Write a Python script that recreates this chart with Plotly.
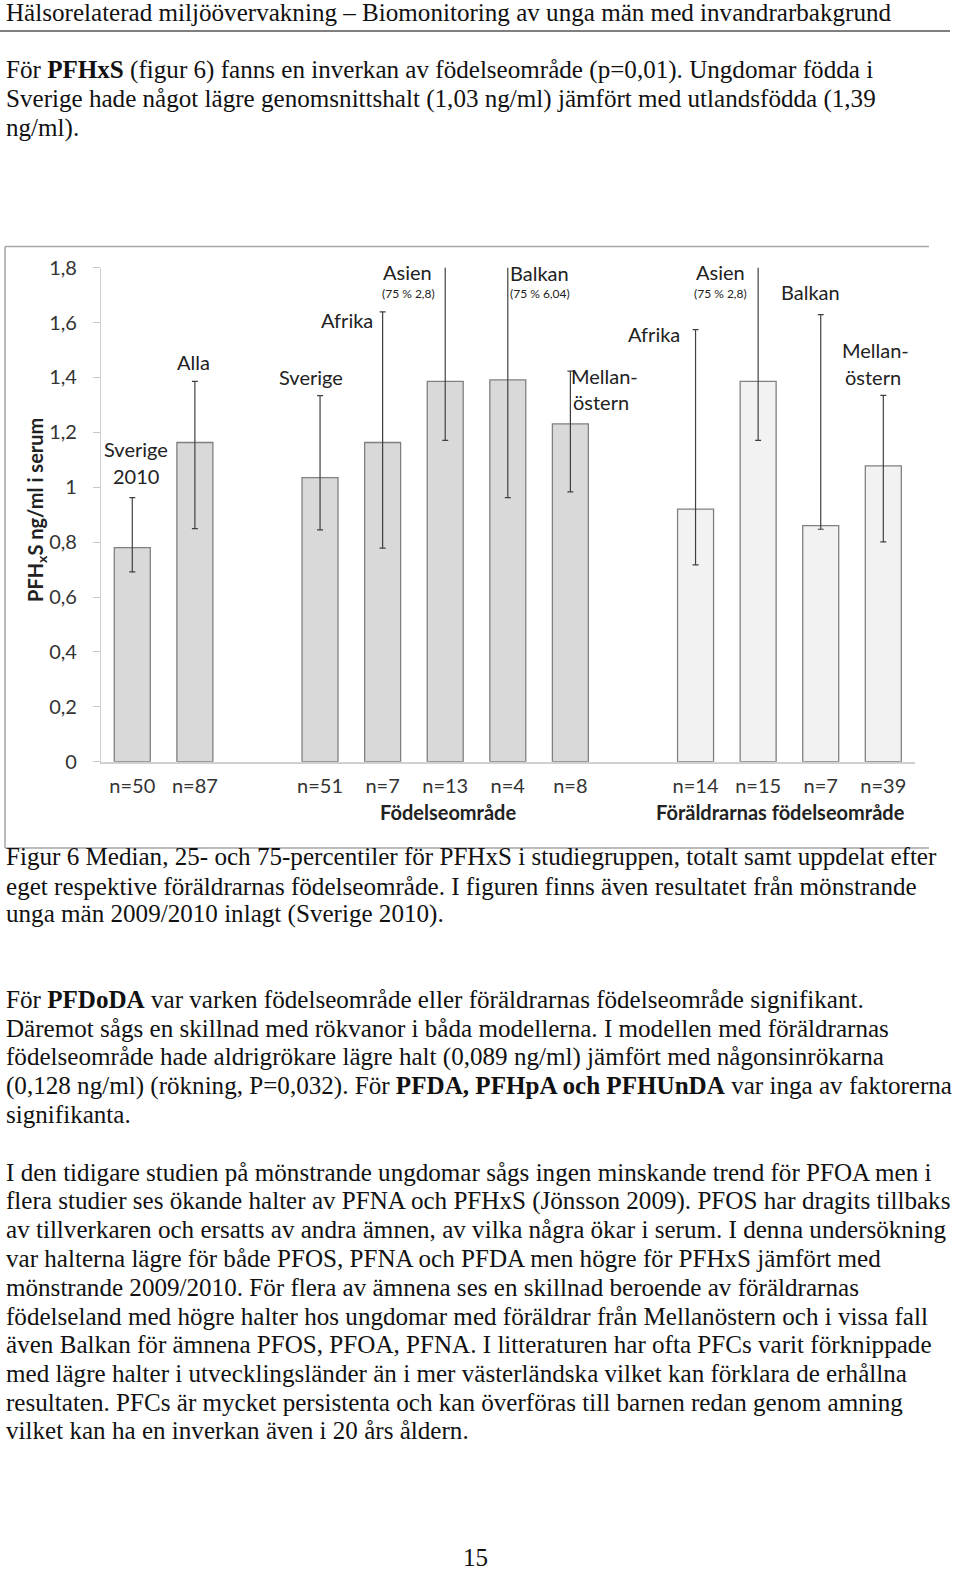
import plotly.graph_objects as go

W, H = 960, 1585

# ---------------- data ----------------
slots = [0, 1, 3, 4, 5, 6, 7, 9, 10, 11, 12]
categories = ["Sverige 2010", "Alla", "Sverige", "Afrika", "Asien", "Balkan", "Mellanöstern",
              "Afrika", "Asien", "Balkan", "Mellanöstern"]
group = ["born", "born", "born", "born", "born", "born", "born",
         "parents", "parents", "parents", "parents"]
median = [0.78, 1.163, 1.035, 1.163, 1.386, 1.391, 1.231, 0.920, 1.386, 0.860, 1.078]
q25 = [0.692, 0.849, 0.845, 0.778, 1.171, 0.962, 0.983, 0.717, 1.171, 0.847, 0.801]
q75 = [0.962, 1.386, 1.334, 1.639, 2.8, 6.04, 1.423, 1.574, 2.8, 1.629, 1.335]
n_labels = ["n=50", "n=87", "n=51", "n=7", "n=13", "n=4", "n=8", "n=14", "n=15", "n=7", "n=39"]
y_ticks = [0, 0.2, 0.4, 0.6, 0.8, 1.0, 1.2, 1.4, 1.6, 1.8]
y_ticktext = ["0", "0,2", "0,4", "0,6", "0,8", "1", "1,2", "1,4", "1,6", "1,8"]

fill = {"born": "#d9d9d9", "parents": "#f2f2f2"}

def px(x):
    return x / W

def py(y):
    return 1 - y / H

fig = go.Figure()
fig.add_trace(go.Bar(
    x=slots, y=median, width=0.575,
    marker=dict(color=[fill[g] for g in group], line=dict(color="#808080", width=1.3)),
    error_y=dict(type="data", symmetric=False,
                 array=[h - m for h, m in zip(q75, median)],
                 arrayminus=[m - l for m, l in zip(median, q25)],
                 color="#404040", thickness=1.2, width=3),
    hoverinfo="skip", showlegend=False,
))

chart_font = "Lato"
fig.update_layout(
    template="none",
    width=W, height=H,
    margin=dict(l=0, r=0, t=0, b=0, pad=0, autoexpand=False),
    paper_bgcolor="white", plot_bgcolor="white",
    xaxis=dict(domain=[px(101), px(914.6)], range=[-0.5, 12.5], automargin=False,
               tickvals=slots, ticktext=n_labels, ticks="", showgrid=False,
               showline=True, linecolor="#d0d0d0", linewidth=1.5, zeroline=False,
               tickfont=dict(family=chart_font, size=20, color="#333333"),
               ticklabelstandoff=6),
    yaxis=dict(domain=[py(761.7), py(267.7)], range=[0, 1.8], automargin=False,
               tickvals=y_ticks, ticktext=y_ticktext, ticks="outside", ticklen=7,
               tickcolor="#c8c8c8", showgrid=False, showline=True, linecolor="#d0d0d0",
               linewidth=1.2, zeroline=False,
               tickfont=dict(family=chart_font, size=20, color="#333333"),
               ticklabelstandoff=12),
)

# chart frame (top, left, bottom)
frame = dict(type="line", xref="paper", yref="paper", line=dict(color="#a6a6a6", width=1.5))
fig.add_shape(**frame, x0=px(5), x1=px(929), y0=py(246.5), y1=py(246.5))
fig.add_shape(**frame, x0=px(5), x1=px(5), y0=py(246.5), y1=py(848))
fig.add_shape(**frame, x0=px(5), x1=px(929), y0=py(848), y1=py(848))

def ann(text, x, y, size=20, bold=False, family=chart_font, color="#222222",
        xanchor="center", angle=0):
    if bold:
        text = "<b>" + text + "</b>"
    fig.add_annotation(text=text, x=px(x), y=py(y), xref="paper", yref="paper",
                       showarrow=False, xanchor=xanchor, yanchor="middle",
                       font=dict(family=family, size=size, color=color), textangle=angle)

# category labels on chart
cat_labels = [
    ("Sverige", 136, 449), ("2010", 136, 476), ("Alla", 193, 362),
    ("Sverige", 311, 377), ("Afrika", 347, 320),
    ("Asien", 407, 272), ("Balkan", 539, 273),
    ("Mellan-", 604, 376), ("östern", 601, 402),
    ("Afrika", 654, 334), ("Asien", 720, 272), ("Balkan", 810, 292),
    ("Mellan-", 875, 350), ("östern", 873, 377),
]
for t, x, y in cat_labels:
    ann(t, x, y, size=20)
for t, x, y in [("(75 % 2,8)", 408, 293), ("(75 % 6,04)", 540, 293), ("(75 % 2,8)", 720, 293)]:
    ann(t, x, y, size=12)

ann("Födelseområde", 448, 812, size=20, bold=True)
ann("Föräldrarnas födelseområde", 780, 812, size=20, bold=True)
ann("PFH<sub>x</sub>S ng/ml i serum", 36, 510, size=20, bold=True, angle=-90)

# ---------------- page text ----------------
serif = "Liberation Serif"
TS = 25.1
ann("Hälsorelaterad miljöövervakning – Biomonitoring av unga män med invandrarbakgrund",
    4, 13, size=TS, family=serif, color="#111111", xanchor="left")
fig.add_shape(type="line", xref="paper", yref="paper", x0=0, x1=px(950), y0=py(31), y1=py(31),
              line=dict(color="#555555", width=1.5))

body = [
    (70, "För <b>PFHxS</b> (figur 6) fanns en inverkan av födelseområde (p=0,01). Ungdomar födda i"),
    (99, "Sverige hade något lägre genomsnittshalt (1,03 ng/ml) jämfört med utlandsfödda (1,39"),
    (128, "ng/ml)."),
    (857, "Figur 6 Median, 25- och 75-percentiler för PFHxS i studiegruppen, totalt samt uppdelat efter"),
    (886, "eget respektive föräldrarnas födelseområde. I figuren finns även resultatet från mönstrande"),
    (914, "unga män 2009/2010 inlagt (Sverige 2010)."),
    (999, "För <b>PFDoDA</b> var varken födelseområde eller föräldrarnas födelseområde signifikant."),
    (1028, "Däremot sågs en skillnad med rökvanor i båda modellerna. I modellen med föräldrarnas"),
    (1057, "födelseområde hade aldrigrökare lägre halt (0,089 ng/ml) jämfört med någonsinrökarna"),
    (1086, "(0,128 ng/ml) (rökning, P=0,032). För <b>PFDA, PFHpA och PFHUnDA</b> var inga av faktorerna"),
    (1114, "signifikanta."),
    (1172, "I den tidigare studien på mönstrande ungdomar sågs ingen minskande trend för PFOA men i"),
    (1201, "flera studier ses ökande halter av PFNA och PFHxS (Jönsson 2009). PFOS har dragits tillbaks"),
    (1229, "av tillverkaren och ersatts av andra ämnen, av vilka några ökar i serum. I denna undersökning"),
    (1258, "var halterna lägre för både PFOS, PFNA och PFDA men högre för PFHxS jämfört med"),
    (1287, "mönstrande 2009/2010. För flera av ämnena ses en skillnad beroende av föräldrarnas"),
    (1316, "födelseland med högre halter hos ungdomar med föräldrar från Mellanöstern och i vissa fall"),
    (1344, "även Balkan för ämnena PFOS, PFOA, PFNA. I litteraturen har ofta PFCs varit förknippade"),
    (1373, "med lägre halter i utvecklingsländer än i mer västerländska vilket kan förklara de erhållna"),
    (1402, "resultaten. PFCs är mycket persistenta och kan överföras till barnen redan genom amning"),
    (1430, "vilket kan ha en inverkan även i 20 års åldern."),
]
for y, t in body:
    ann(t, 4, y, size=TS, family=serif, color="#111111", xanchor="left")

ann("15", 475, 1557, size=TS, family=serif, color="#111111")

fig.write_html("out.html", config={"displayModeBar": False},
               post_script="document.body.style.margin='0px';")
